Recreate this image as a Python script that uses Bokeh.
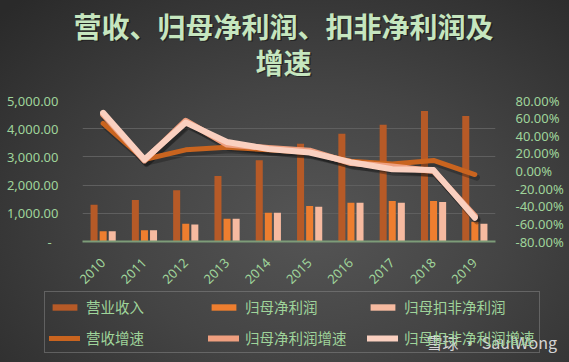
import numpy as np
from bokeh.plotting import figure
from bokeh.layouts import column
from bokeh.models import (Range1d, LinearAxis, FixedTicker, CustomJSTickFormatter,
                          Legend, LegendItem, Label, InlineStyleSheet)
from bokeh.embed import file_html
from bokeh.resources import INLINE

# ---------------- data ----------------
years = ["2010", "2011", "2012", "2013", "2014", "2015", "2016", "2017", "2018", "2019"]
revenue = [1300, 1470, 1820, 2320, 2880, 3470, 3820, 4140, 4630, 4450]
net_profit = [360, 400, 630, 810, 1020, 1260, 1370, 1440, 1440, 700]
deducted_profit = [360, 400, 600, 810, 1020, 1230, 1370, 1370, 1400, 630]
revenue_growth = [54, 13, 24, 27, 24, 21, 11, 8, 12, -4]
net_profit_growth = [64, 12, 57, 30, 26, 23, 9, 5, 0, -51]
deducted_growth = [66, 13, 55, 33, 25, 21, 10, 2, 1, -53]

left_ticks = [0, 1000, 2000, 3000, 4000, 5000]
right_ticks = [-80, -60, -40, -20, 0, 20, 40, 60, 80]

title_line1 = "营收、归母净利润、扣非净利润及"
title_line2 = "增速"
legend_labels = ["营业收入", "归母净利润", "归母扣非净利润", "营收增速", "归母净利润增速", "归母扣非净利润增速"]
watermark = "雪球 · SaulWong"

# ---------------- styles ----------------
GREEN = "#9fd49a"
TITLE_COLOR = "#c6e6bf"
FONT = "Noto Sans"
CJK = "Noto Sans CJK SC"
C_REV = "#b65a27"
C_NP = "#ee7e2f"
C_DED = "#f6baa0"
C_REVG = "#c9641f"
C_NPG = "#ef9f7f"
C_DEDG = "#fad0c0"
W = 569


def no_align(f):
    try:
        f.frame_align = False
    except Exception:
        pass
    return f


def blank_fig(height, y_range=(0, 1)):
    f = figure(width=W, height=height, output_backend="svg", toolbar_location=None,
               x_range=Range1d(0, 1), y_range=Range1d(*y_range),
               x_axis_type=None, y_axis_type=None, min_border=0)
    f.background_fill_alpha = 0
    f.border_fill_alpha = 0
    f.outline_line_color = None
    f.xgrid.grid_line_color = None
    f.ygrid.grid_line_color = None
    return no_align(f)


# ---------------- title strip ----------------
t = blank_fig(90)
for dx, dy, col, a in [(1.5, -1.5, "#111111", 0.55), (0, 0, TITLE_COLOR, 1.0)]:
    t.add_layout(Label(x=283 + dx, y=65 + dy, x_units="screen", y_units="screen", text=title_line1,
                       text_align="center", text_baseline="middle", text_font=CJK,
                       text_font_size="28px", text_font_style="bold", text_color=col, text_alpha=a))
    t.add_layout(Label(x=283 + dx, y=29 + dy, x_units="screen", y_units="screen", text=title_line2,
                       text_align="center", text_baseline="middle", text_font=CJK,
                       text_font_size="28px", text_font_style="bold", text_color=col, text_alpha=a))

# ---------------- main chart ----------------
x = np.arange(len(years))
p = figure(width=W, height=200, output_backend="svg", toolbar_location=None,
           x_range=Range1d(-0.5, 9.5), y_range=Range1d(0, 5000),
           min_border_left=82, min_border_right=74, min_border_top=10, min_border_bottom=47)
no_align(p)
p.extra_y_ranges = {"pct": Range1d(-80, 80), "pct_shadow": Range1d(-76.5, 83.5)}
p.extra_x_ranges = {"x_shadow": Range1d(-0.55, 9.45)}
p.background_fill_alpha = 0
p.border_fill_alpha = 0
p.outline_line_color = None

p.xaxis.ticker = FixedTicker(ticks=list(x))
p.xaxis.major_label_overrides = {int(i): y for i, y in zip(x, years)}
p.xaxis.major_label_orientation = np.pi / 4
p.xaxis.axis_line_color = "#7d9c79"
p.xaxis.axis_line_width = 2
p.xaxis.major_tick_line_color = None
p.xaxis.minor_tick_line_color = None
p.xaxis.major_label_text_color = GREEN
p.xaxis.major_label_text_font = FONT
p.xaxis.major_label_text_font_size = "13px"
p.xaxis.major_label_standoff = 13

p.yaxis.ticker = FixedTicker(ticks=left_ticks)
p.yaxis.formatter = CustomJSTickFormatter(code="""
if (tick == 0) { return "-  "; }
return tick.toLocaleString('en-US', {minimumFractionDigits: 2, maximumFractionDigits: 2});
""")
p.yaxis.axis_line_color = None
p.yaxis.major_tick_line_color = None
p.yaxis.minor_tick_line_color = None
p.yaxis.major_label_text_color = GREEN
p.yaxis.major_label_text_font = FONT
p.yaxis.major_label_text_font_size = "13px"
p.yaxis.major_label_standoff = 18

raxis = LinearAxis(y_range_name="pct", ticker=FixedTicker(ticks=right_ticks),
                   formatter=CustomJSTickFormatter(code="return tick.toFixed(2) + '%';"))
raxis.axis_line_color = None
raxis.major_tick_line_color = None
raxis.minor_tick_line_color = None
raxis.major_label_text_color = GREEN
raxis.major_label_text_font = FONT
raxis.major_label_text_font_size = "13px"
raxis.major_label_standoff = 14
p.add_layout(raxis, "right")

p.xgrid.grid_line_color = None
p.ygrid.grid_line_color = "#5f5f5f"
p.ygrid.grid_line_width = 1

bw = 0.17
off = 0.22
p.vbar(x=x - off, top=revenue, width=bw, fill_color=C_REV, line_color=None)
p.vbar(x=x, top=net_profit, width=bw, fill_color=C_NP, line_color=None)
p.vbar(x=x + off, top=deducted_profit, width=bw, fill_color=C_DED, line_color=None)

# soft drop shadows of the growth lines (same data, slightly shifted view range)
for series, lw in [(revenue_growth, 6), (net_profit_growth, 7), (deducted_growth, 7)]:
    p.line(x, series, x_range_name="x_shadow", y_range_name="pct_shadow",
           line_color="#141414", line_alpha=0.35, line_width=lw, line_cap="round", line_join="round")

p.line(x, revenue_growth, y_range_name="pct", line_color=C_REVG, line_width=5,
       line_cap="round", line_join="round")
p.line(x, net_profit_growth, y_range_name="pct", line_color=C_NPG, line_width=6,
       line_cap="round", line_join="round")
p.line(x, deducted_growth, y_range_name="pct", line_color=C_DEDG, line_width=6,
       line_cap="round", line_join="round")

# ---------------- legend strip ----------------
# legend keys: same series drawn in a strip whose view range lies far above every value,
# so only their legend swatches show
lg = blank_fig(72, y_range=(100000, 100001))
k_rev = lg.vbar(x=x, top=revenue, width=bw, fill_color=C_REV, line_color=None)
k_np = lg.vbar(x=x, top=net_profit, width=bw, fill_color=C_NP, line_color=None)
k_ded = lg.vbar(x=x, top=deducted_profit, width=bw, fill_color=C_DED, line_color=None)
k_revg = lg.line(x, revenue_growth, line_color=C_REVG, line_width=5, line_cap="round")
k_npg = lg.line(x, net_profit_growth, line_color=C_NPG, line_width=6, line_cap="round")
k_dedg = lg.line(x, deducted_growth, line_color=C_DEDG, line_width=6, line_cap="round")
keys = [k_rev, k_np, k_ded, k_revg, k_npg, k_dedg]

legend = Legend(items=[LegendItem(label=l, renderers=[r]) for l, r in zip(legend_labels, keys)],
                location=(44, 9), orientation="horizontal", ncols=3,
                glyph_width=31, glyph_height=8, label_width=112, label_height=20,
                label_standoff=6, spacing=10, padding=4, margin=0,
                label_text_color=GREEN, label_text_font=CJK, label_text_font_size="14.5px",
                border_line_color="#8a8a8a", border_line_width=1, background_fill_alpha=0)
lg.add_layout(legend, "center")

lg.add_layout(Label(x=426, y=21, x_units="screen", y_units="screen", text=watermark,
                    text_align="left", text_baseline="middle", text_font=CJK,
                    text_font_size="16px", text_color="white", text_alpha=0.8))

page = column(column(t, spacing=0), p, column(lg, spacing=0), spacing=0,
              stylesheets=[InlineStyleSheet(css=":host { background: radial-gradient(ellipse 75% 85% at 55% 62%, #555555 0%, #444444 45%, #2a2a2a 100%); }")])

open("out.html", "w").write(file_html(page, INLINE))
